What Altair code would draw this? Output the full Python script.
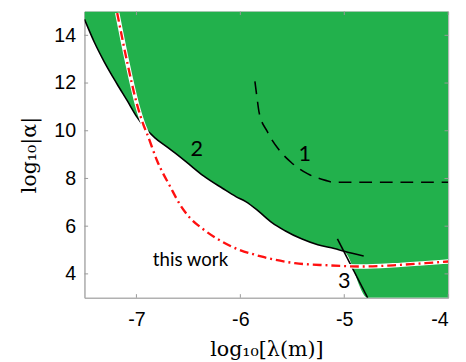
import altair as alt
import pandas as pd

# curve 2 (solid black, lower edge of the green region)
c2_x = [-7.5, -7.405, -7.311, -7.185, -7.09, -6.996, -6.932, -6.822, -6.70, -6.611, -6.50, -6.358, -6.169,
        -6.043, -5.948, -5.823, -5.696, -5.570, -5.412, -5.255, -5.097, -5.002, -4.813]
c2_y = [14.67, 13.71, 12.90, 11.95, 11.27, 10.58, 10.20, 9.70, 9.30, 9.01, 8.62, 8.12, 7.58,
        7.24, 7.03, 6.62, 6.15, 5.81, 5.47, 5.22, 5.06, 4.95, 4.75]
# curve 3 (solid black, steep line)
c3_x = [-5.066, -4.775]
c3_y = [5.47, 3.0]
# curve 1 (dashed black)
c1_x = [-5.86, -5.84, -5.82, -5.74, -5.63, -5.51, -5.35, -5.18, -5.10, -4.5, -4.0]
c1_y = [12.07, 11.4, 10.78, 9.96, 9.21, 8.67, 8.19, 7.92, 7.84, 7.84, 7.84]
# "this work" (red dash-dot)
rw_x = [-7.185, -7.09, -6.996, -6.932, -6.90, -6.80, -6.674, -6.58, -6.485, -6.36, -6.11, -5.79, -5.475,
        -5.16, -4.84, -4.53, -4.22, -4.0]
rw_y = [14.94, 12.9, 11.13, 10.24, 9.9, 8.73, 7.65, 6.9, 6.35, 5.88, 5.2, 4.72, 4.45,
        4.36, 4.31, 4.36, 4.45, 4.52]

# green region lower boundary: curve 2 to the crossing, then curve 3 to the floor
g_x = c2_x[:-1] + [-4.775, -4.0]
g_y = c2_y[:-1] + [3.0, 3.0]

labels = ["1", "2", "3", "this work"]
lab_x = [-5.38, -6.42, -5.0, -6.48]
lab_y = [9.02, 9.22, 3.71, 4.57]
lab_size = [22, 22, 22, 19]

x_ticks = [-7, -6, -5, -4]
y_ticks = [4, 6, 8, 10, 12, 14]

XD = [-7.5, -4]
YD = [3, 15]
xs = alt.Scale(domain=XD, nice=False, zero=False)
ys = alt.Scale(domain=YD, nice=False, zero=False)

xax = alt.Axis(values=x_ticks, title="log₁₀[λ(m)]", ticks=False, tickSize=0, grid=False,
               labelExpr="datum.value + ''",
               labelFont="Liberation Sans", labelFontSize=20, labelPadding=12,
               titleFont="DejaVu Serif", titleFontSize=21, titleFontWeight="normal",
               titlePadding=10, domainColor="#aaaaaa", labelColor="black", titleColor="black")
yax = alt.Axis(values=y_ticks, title="log₁₀|α|", ticks=False, tickSize=0, grid=False,
               labelExpr="datum.value + ''",
               labelFont="Liberation Sans", labelFontSize=20, labelPadding=9,
               titleFont="DejaVu Serif", titleFontSize=21, titleFontWeight="normal",
               titlePadding=15, domainColor="#aaaaaa", labelColor="black", titleColor="black")

gdf = pd.DataFrame({"gx": g_x, "gy": g_y, "gtop": [YD[1]] * len(g_x)})
area = alt.Chart(gdf).mark_area(color="#22b14c", fill="#22b14c", fillOpacity=1, clip=True,
                                interpolate="monotone").encode(
    x=alt.X("gx:Q", scale=xs, axis=xax),
    y=alt.Y("gy:Q", scale=ys, axis=yax),
    y2=alt.Y2("gtop:Q"),
)

def line(xv, yv, **kw):
    df = pd.DataFrame({"x": xv, "y": yv, "i": list(range(len(xv)))})
    return alt.Chart(df).mark_line(clip=True, **kw).encode(
        x=alt.X("x:Q", scale=xs), y=alt.Y("y:Q", scale=ys), order="i:Q")

l2 = line(c2_x, c2_y, color="black", strokeWidth=1.6, interpolate="monotone")
l3 = line(c3_x, c3_y, color="black", strokeWidth=1.6)
l1 = line(c1_x, c1_y, color="black", strokeWidth=1.6, strokeDash=[13, 8], interpolate="monotone")
rw_bg = line(rw_x, rw_y, color="white", strokeWidth=4.5, interpolate="monotone")
rw = line(rw_x, rw_y, color="#ff1010", strokeWidth=2.4, strokeDash=[9, 4, 2, 4], interpolate="monotone")

ldf = pd.DataFrame({"t": labels, "x": lab_x, "y": lab_y, "s": lab_size})
texts = alt.Chart(ldf).mark_text(font="Lato", color="black", align="center", baseline="middle").encode(
    x=alt.X("x:Q", scale=xs), y=alt.Y("y:Q", scale=ys), text="t:N",
    size=alt.Size("s:Q", scale=None, legend=None))

# inward ticks on all four sides
tb = pd.DataFrame({"x": x_ticks, "y0": [YD[0]] * 4, "y1": [YD[0] + 0.15] * 4})
tt = pd.DataFrame({"x": x_ticks, "y0": [YD[1]] * 4, "y1": [YD[1] - 0.15] * 4})
tl = pd.DataFrame({"y": y_ticks, "x0": [XD[0]] * 6, "x1": [XD[0] + 0.035] * 6})
tr = pd.DataFrame({"y": y_ticks, "x0": [XD[1]] * 6, "x1": [XD[1] - 0.035] * 6})
tick_style = dict(color="#999999", strokeWidth=1)
tick_b = alt.Chart(tb).mark_rule(**tick_style).encode(x=alt.X("x:Q", scale=xs), y=alt.Y("y0:Q", scale=ys), y2="y1:Q")
tick_t = alt.Chart(tt).mark_rule(**tick_style).encode(x=alt.X("x:Q", scale=xs), y=alt.Y("y0:Q", scale=ys), y2="y1:Q")
tick_l = alt.Chart(tl).mark_rule(**tick_style).encode(y=alt.Y("y:Q", scale=ys), x=alt.X("x0:Q", scale=xs), x2="x1:Q")
tick_r = alt.Chart(tr).mark_rule(**tick_style).encode(y=alt.Y("y:Q", scale=ys), x=alt.X("x0:Q", scale=xs), x2="x1:Q")

chart = alt.layer(area, l2, l3, l1, rw_bg, rw, texts, tick_b, tick_t, tick_l, tick_r).properties(
    width=371, height=292,
    autosize=alt.AutoSizeParams(type="none"),
    padding={"left": 78, "top": 0, "right": 10, "bottom": 62},
    background="white",
).configure_view(stroke="#aaaaaa", strokeWidth=1)

chart.save("out.html", embed_options={"renderer": "svg", "actions": False})
